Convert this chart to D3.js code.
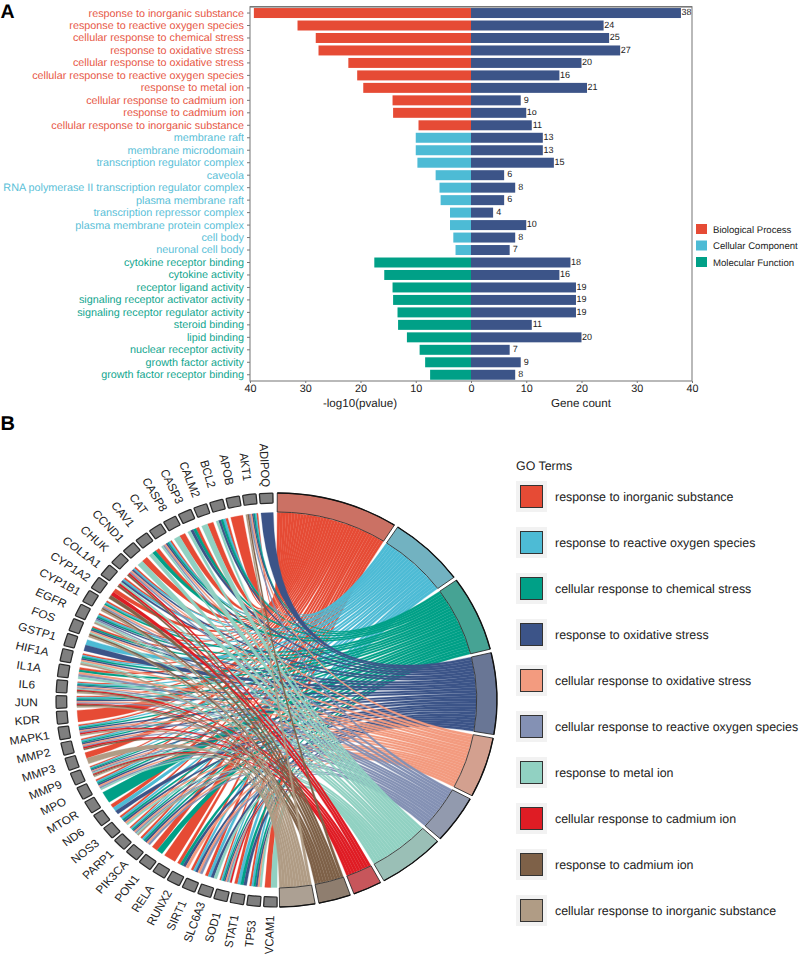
<!DOCTYPE html>
<html><head><meta charset="utf-8">
<script src="https://cdn.jsdelivr.net/npm/d3@7"></script>
<style>
html,body{margin:0;padding:0;background:#fff}
svg{display:block}
text{font-family:"Liberation Sans",Arial,sans-serif;text-rendering:geometricPrecision}
</style></head><body>
<svg id="c" width="800" height="955"></svg>
<script>
// ---------- Panel A data ----------
const categories = ["response to inorganic substance","response to reactive oxygen species","cellular response to chemical stress","response to oxidative stress","cellular response to oxidative stress","cellular response to reactive oxygen species","response to metal ion","cellular response to cadmium ion","response to cadmium ion","cellular response to inorganic substance","membrane raft","membrane microdomain","transcription regulator complex","caveola","RNA polymerase II transcription regulator complex","plasma membrane raft","transcription repressor complex","plasma membrane protein complex","cell body","neuronal cell body","cytokine receptor binding","cytokine activity","receptor ligand activity","signaling receptor activator activity","signaling receptor regulator activity","steroid binding","lipid binding","nuclear receptor activity","growth factor activity","growth factor receptor binding"];
const pvalues = [39.3,31.4,28.1,27.6,22.2,20.6,19.5,14.2,14.1,9.5,10.0,10.0,9.7,6.4,5.7,5.5,3.8,3.8,3.2,2.8,17.5,15.7,14.2,14.1,13.3,13.2,11.6,9.3,8.3,7.4];
const geneCounts = [38,24,25,27,20,16,21,9,10,11,13,13,15,6,8,6,4,10,8,7,18,16,19,19,19,11,20,7,9,8];
const countLabels = ["38","24","25","27","20","16","21","9","1o","11","13","13","15","6","8","6","4","10","8","7","18","16","19","19","19","11","20","7","9","8"];
const categoryGroups = [0,0,0,0,0,0,0,0,0,0,1,1,1,1,1,1,1,1,1,1,2,2,2,2,2,2,2,2,2,2];
const groupNames = ["Biological Process","Cellular Component","Molecular Function"];
const groupColors = ["#E64B35","#4DBBD5","#00A087"];
const countColor = "#3C5488";
const xTicks = [40,30,20,10,0];

// ---------- Panel B data ----------
const goTerms = categories.slice(0,10);
const termColors = ["#E64B35","#4DBBD5","#00A087","#3C5488","#F39B7F","#8491B4","#91D1C2","#DF1C24","#7E6148","#B09C85"];
const termCounts = [38,24,25,27,20,16,21,9,10,11];
const geneNames = ["ADIPOQ","AKT1","APOB","BCL2","CALM2","CASP3","CASP8","CAT","CAV1","CCND1","CHUK","COL1A1","CYP1A2","CYP1B1","EGFR","FOS","GSTP1","HIF1A","IL1A","IL6","JUN","KDR","MAPK1","MMP2","MMP3","MMP9","MPO","MTOR","ND6","NOS3","PARP1","PIK3CA","PON1","RELA","RUNX2","SIRT1","SLC6A3","SOD1","STAT1","TP53","VCAM1"];
const geneTerms = [[3],[0,1,2,3,4,5,8,9],[0],[0,1,2,3,6],[0,6],[0,2,3,6],[0,6],[0,1,2,3,4,5,6],[0,2,6],[0,6],[0,1,3,4,5,7,8],[0,1,3,6,7,8],[0,7,8],[0,1,2,4,5,8,9],[0,1,2,3,5,6,9],[0,2,3,4,6,8,9],[1,3],[0,1,2,3,4,6,9],[0,2,4,5,6],[0,1,2,3,4,5,6,7,8,9],[0,1,2,3,4,5,7,8,9],[0],[0,1,2,3,4,5,7,9],[0,1,2,3,4,5,7,8],[0,9],[0,1,2,3,4,5,6,7,8,9],[0,1,2,3,4,5,6],[2],[0,1,3],[0,1,2,3,4,6],[0,1,2,3,4,5,6,9],[0,1,2,3,4,5],[0,2],[0],[0,2,3,4],[0,1,3,4,5],[0,1,3,6],[0,1,2,3,4,5,6,7],[0,1,2,3],[0,1,2,3,4,6],[0,6]];

const svg = d3.select("#c");

// ---------- Panel labels ----------
svg.append("text").attr("x",0.5).attr("y",18).attr("font-size",19.5).attr("font-weight","bold").text("A");
svg.append("text").attr("x",0.5).attr("y",430).attr("font-size",20).attr("font-weight","bold").text("B");

// ---------- Panel A ----------
const top_=6.8, bot=381, xl=250, x0=471, xr=692;
const y = d3.scaleBand().domain(categories).range([top_,bot]).paddingInner(0.2).paddingOuter(0.1);
const xLeft = d3.scaleLinear().domain([40,0]).range([xl,x0]);
const xRight = d3.scaleLinear().domain([0,40]).range([x0,xr]);
const A = svg.append("g");
const rows = categories.map((c,i)=>({c,p:pvalues[i],n:geneCounts[i],g:categoryGroups[i],l:countLabels[i]}));
A.selectAll("rect.p").data(rows).join("rect").attr("class","p")
  .attr("x",d=>xLeft(d.p)).attr("y",d=>y(d.c)).attr("width",d=>x0-xLeft(d.p)).attr("height",y.bandwidth())
  .attr("fill",d=>groupColors[d.g]);
A.selectAll("rect.n").data(rows).join("rect").attr("class","n")
  .attr("x",x0).attr("y",d=>y(d.c)).attr("width",d=>xRight(d.n)-x0).attr("height",y.bandwidth())
  .attr("fill",countColor);
A.selectAll("text.v").data(rows).join("text").attr("class","v")
  .attr("x",d=>xRight(d.n)+5.6).attr("y",d=>y(d.c)+y.bandwidth()/2+2.3)
  .attr("text-anchor","middle").attr("font-size",9).attr("fill","#222").text(d=>d.l);
A.append("rect").attr("x",xl).attr("y",top_).attr("width",xr-xl).attr("height",bot-top_)
  .attr("fill","none").attr("stroke","#8a8a8a").attr("stroke-width",1.2);
A.append("line").attr("x1",xl).attr("x2",xr).attr("y1",top_).attr("y2",top_).attr("stroke","#666").attr("stroke-width",1);

const yAxis = A.append("g").attr("transform",`translate(${xl},0)`).call(d3.axisLeft(y).tickSize(3).tickPadding(3));
yAxis.select(".domain").remove();
yAxis.selectAll(".tick line").attr("stroke","#777");
yAxis.selectAll(".tick text").attr("font-size",10.8).attr("font-family",null)
  .attr("fill",(d,i)=>groupColors[categoryGroups[i]]).style("opacity",.93);
const ax1 = A.append("g").attr("transform",`translate(0,${bot})`).call(d3.axisBottom(xLeft).tickValues(xTicks).tickSize(2).tickPadding(1.5));
const ax2 = A.append("g").attr("transform",`translate(0,${bot})`).call(d3.axisBottom(xRight).tickValues(xTicks.filter(v=>v>0)).tickSize(2).tickPadding(1.5));
[ax1,ax2].forEach(a=>{a.select(".domain").remove();a.selectAll(".tick line").attr("stroke","#777");
  a.selectAll(".tick text").attr("font-size",10.8).attr("font-family",null).attr("fill","#222");});
A.append("text").attr("x",360).attr("y",407).attr("text-anchor","middle").attr("font-size",11.6).attr("fill","#222").text("-log10(pvalue)");
A.append("text").attr("x",581).attr("y",407).attr("text-anchor","middle").attr("font-size",11.6).attr("fill","#222").text("Gene count");

const lg = A.selectAll("g.lg").data(groupNames).join("g").attr("class","lg")
  .attr("transform",(d,i)=>`translate(696,${224+i*16.5})`);
lg.append("rect").attr("width",11).attr("height",10).attr("fill",(d,i)=>groupColors[i]);
lg.append("text").attr("x",17).attr("y",8.5).attr("font-size",9.6).attr("fill","#222").text(d=>d);

// ---------- Panel B : chord ----------
const cx=276.5, cy=700, sx=1.065;
const R=207, ringIn=188, gIn=197, rib=187.5;
const deg = Math.PI/180;
const B = svg.append("g").attr("transform",`translate(${cx},${cy}) scale(${sx},1)`);

const geneAngle = d3.scaleLinear().domain([0,geneNames.length-1]).range([357.3*deg,181.6*deg]);
const geneHalf = 1.76*deg;
const termStart = 0.2*deg, termGap = 1.0*deg, perCount = 0.8458*deg;
let acc = termStart;
const termArcs = termCounts.map((n,i)=>{const a={i,n,startAngle:acc,endAngle:acc+n*perCount};acc=a.endAngle+termGap;return a;});

// gene arcs
const gArc = d3.arc().innerRadius(gIn).outerRadius(R).cornerRadius(0.8);
B.selectAll("path.g").data(geneNames).join("path").attr("class","g")
  .attr("d",(d,i)=>gArc({startAngle:geneAngle(i)-geneHalf,endAngle:geneAngle(i)+geneHalf}))
  .attr("fill","#7f7f7f").attr("stroke","#2a2a2a").attr("stroke-width",1.2);

// gene labels
B.selectAll("text.gl").data(geneNames).join("text").attr("class","gl")
  .attr("text-anchor","middle").attr("dy","0.35em").attr("font-size",11.2).attr("fill","#222")
  .attr("transform",(d,i)=>{
    const a=geneAngle(i), r=235;
    const rot=Math.atan2(Math.cos(a),-Math.sin(a))/deg;
    return `translate(${r*Math.sin(a)},${-r*Math.cos(a)}) rotate(${rot})`;
  }).text(d=>d);

// ribbons: term slots run from the first gene onwards, stripes within a gene run clockwise by descending term
const termUsed = termCounts.map(()=>0);
const links = [];
geneNames.forEach((g,gi)=>{
  const ts = geneTerms[gi].slice().sort((a,b)=>b-a);
  const a0 = geneAngle(gi)-geneHalf, w = 2*geneHalf/ts.length;
  ts.forEach((t,k)=>{
    const slot = termUsed[t]++;
    const ts0 = termArcs[t].startAngle+slot*perCount;
    links.push({t,source:{startAngle:a0+k*w,endAngle:a0+(k+1)*w,radius:rib},
                  target:{startAngle:ts0,endAngle:ts0+perCount,radius:rib}});
  });
});
links.sort((a,b)=>a.t-b.t);
const ribbon = d3.ribbon();
B.selectAll("path.r").data(links).join("path").attr("class","r")
  .attr("d",ribbon).attr("fill",d=>termColors[d.t])
  .attr("stroke",d=>termColors[d.t]).attr("stroke-width",0.3);

// term sectors
const tArc = d3.arc().innerRadius(ringIn).outerRadius(R);
const tLine = d3.arc().innerRadius(R).outerRadius(R);
B.selectAll("path.t").data(termArcs).join("path").attr("class","t")
  .attr("d",tArc).attr("fill",d=>d3.interpolateRgb(termColors[d.i],"#a6a6a6")(0.42))
  .attr("stroke","#222").attr("stroke-width",0.8);
B.selectAll("path.to").data(termArcs).join("path").attr("class","to")
  .attr("d",tLine).attr("fill","none").attr("stroke","#111").attr("stroke-width",1.3);

// legend B
svg.append("text").attr("x",516).attr("y",470).attr("font-size",12.4).attr("fill","#222").text("GO Terms");
const lb = svg.selectAll("g.lb").data(goTerms).join("g").attr("class","lb")
  .attr("transform",(d,i)=>`translate(516,${481+i*46})`);
lb.append("rect").attr("width",31).attr("height",31).attr("fill","#f2f2f2");
lb.append("rect").attr("x",4.5).attr("y",4.5).attr("width",22).attr("height",22)
  .attr("fill",(d,i)=>termColors[i]).attr("stroke","#333").attr("stroke-width",1);
lb.append("text").attr("x",39).attr("y",20).attr("font-size",12.4).attr("fill","#222").text(d=>d);
</script>
</body></html>
